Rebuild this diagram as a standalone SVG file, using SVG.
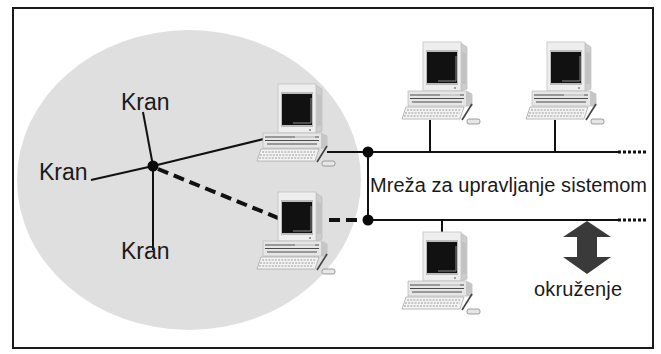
<svg xmlns="http://www.w3.org/2000/svg" width="661" height="354" viewBox="0 0 661 354">
  <style>
    .lbl { font-family: "Liberation Sans", Arial, sans-serif; fill: #1a1a1a; }
    .kran { font-size: 23px; }
    .big { font-size: 20px; }
    .wire { stroke: #111; stroke-width: 2; fill: none; }
    .dash { stroke: #111; stroke-width: 4; stroke-dasharray: 11 6; fill: none; }
    .tail { stroke: #111; stroke-width: 3; stroke-dasharray: 3 2; fill: none; }
    .dot { fill: #0a0a0a; }
  </style>
  <defs>
    <!-- desktop computer clip-art: monitor, system box, keyboard, mouse -->
    <symbol id="pc" overflow="visible">
      <polygon points="61,3 67,7 67,49 61,51" fill="#cdcdcd" stroke="#b5b5b5" stroke-width="0.6"/>
      <path d="M63,12 V44 M65,13 V44" stroke="#aaa" stroke-width="0.6"/>
      <rect x="23" y="2" width="38" height="49" fill="#eeeeee" stroke="#c2c2c2" stroke-width="0.8"/>
      <rect x="26" y="10" width="32" height="35" fill="#bcbcbc"/>
      <rect x="27" y="12" width="30" height="31" fill="#111"/>
      <path d="M38,41 H56 V16" stroke="#8a8a8a" stroke-width="1" fill="none"/>
      <circle cx="55" cy="48" r="0.9" fill="#777"/>
      <polygon points="8,51 66,51 72,54 72,66 8,66" fill="#e6e6e6" stroke="#bdbdbd" stroke-width="0.8"/>
      <polygon points="66,51 72,54 72,66 66,66" fill="#c6c6c6"/>
      <path d="M10,55 H64 M10,58.5 H64 M12,62 H62" stroke="#4a4a4a" stroke-width="1.1"/>
      <path d="M40,55 H60" stroke="#eee" stroke-width="1.2"/>
      <polygon points="6,67 64,67 60,79 2,79" fill="#f3f3f3" stroke="#a8a8a8" stroke-width="0.8"/>
      <path d="M7,70 H61 M5,73 H60 M4,76 H58" stroke="#9a9a9a" stroke-width="1" stroke-dasharray="2 1.2"/>
      <line x1="72" y1="64" x2="62" y2="80" stroke="#444" stroke-width="1.6"/>
      <rect x="67" y="79" width="13" height="5" rx="2" fill="#e6e6e6" stroke="#888" stroke-width="0.8"/>
    </symbol>
  </defs>

  <rect x="0" y="0" width="661" height="354" fill="#fff"/>
  <rect id="frame" x="13" y="8" width="640" height="340" fill="#fff" stroke="#1a1a1a" stroke-width="2"/>

  <!-- crane area -->
  <ellipse id="area" cx="189" cy="180" rx="172" ry="150" fill="#dfdfdf"/>

  <g id="connectors">
    <line class="wire" x1="143" y1="112" x2="153" y2="166"/>
    <line class="wire" x1="91" y1="180" x2="153" y2="166"/>
    <line class="wire" x1="153" y1="166" x2="153" y2="250"/>
    <line class="wire" x1="153" y1="166" x2="272" y2="137"/>
    <line class="dash" x1="158" y1="169" x2="283" y2="220"/>
    <line class="dash" x1="329" y1="220" x2="368" y2="220"/>
    <line class="wire" x1="327" y1="152" x2="618" y2="152"/>
    <line class="tail" x1="618" y1="152" x2="648" y2="152"/>
    <line class="wire" x1="368" y1="220" x2="618" y2="220"/>
    <line class="tail" x1="618" y1="220" x2="648" y2="220"/>
    <line class="wire" x1="368" y1="152" x2="368" y2="220"/>
    <line class="wire" x1="430" y1="120" x2="430" y2="152"/>
    <line class="wire" x1="555" y1="120" x2="555" y2="152"/>
    <line class="wire" x1="442" y1="220" x2="442" y2="234"/>
  </g>

  <g id="hub"><circle class="dot" cx="153" cy="166" r="5.5"/></g>
  <g id="junction-top"><circle class="dot" cx="368" cy="152" r="5.5"/></g>
  <g id="junction-bottom"><circle class="dot" cx="368" cy="220" r="5.5"/></g>

  <g id="kran-top"><text class="lbl kran" x="121" y="110">Kran</text></g>
  <g id="kran-left"><text class="lbl kran" x="39" y="180">Kran</text></g>
  <g id="kran-bottom"><text class="lbl kran" x="121" y="259">Kran</text></g>

  <g id="pc-crane-1"><use href="#pc" x="255" y="82"/></g>
  <g id="pc-crane-2"><use href="#pc" x="255" y="190"/></g>
  <g id="pc-net-1"><use href="#pc" x="400" y="40"/></g>
  <g id="pc-net-2"><use href="#pc" x="524" y="40"/></g>
  <g id="pc-net-3"><use href="#pc" x="400" y="230"/></g>

  <g id="network-label"><text class="lbl big" x="370" y="192" textLength="277">Mreža za upravljanje sistemom</text></g>

  <g id="environment">
    <polygon points="587,221 611,237 597,237 597,257 611,257 587,274 563,257 577,257 577,237 563,237" fill="#3a3a3a"/>
    <text class="lbl big" x="534" y="296" textLength="88">okruženje</text>
  </g>
</svg>
